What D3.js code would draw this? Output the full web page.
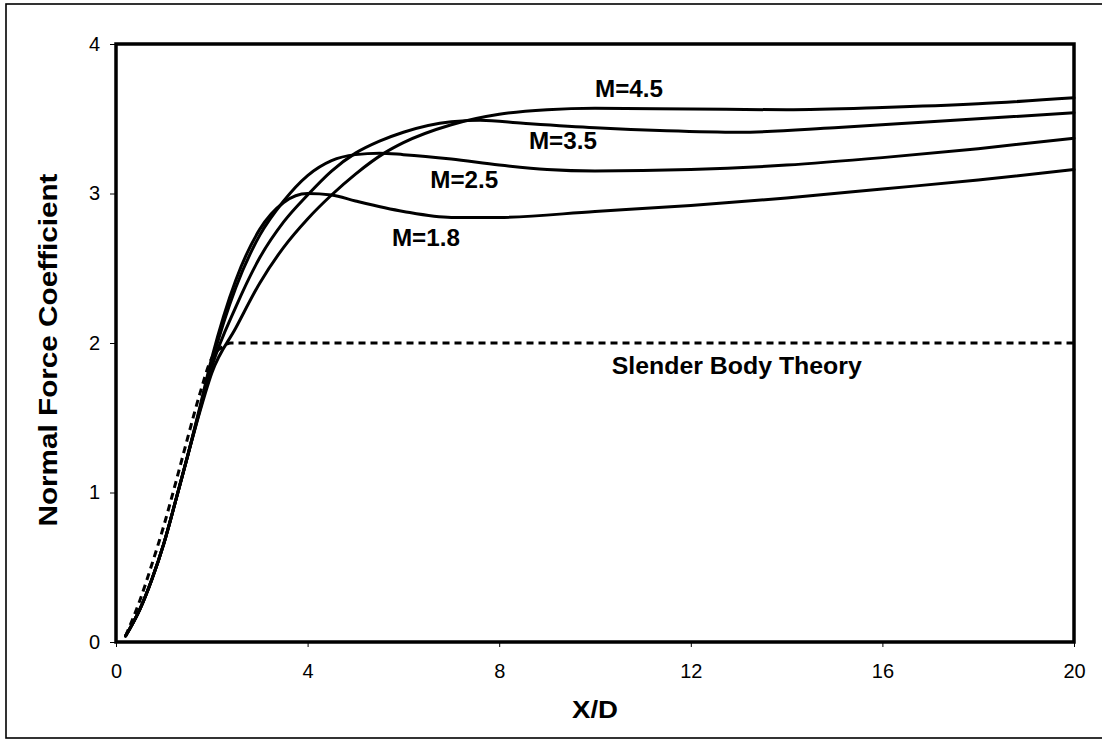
<!DOCTYPE html>
<html>
<head>
<meta charset="utf-8">
<script src="https://cdn.jsdelivr.net/npm/d3@7"></script>
<style>
  body { margin: 0; background: #fff; }
  svg { display: block; }
  text { font-family: "Liberation Sans", Arial, Helvetica, sans-serif; fill: #000; }
</style>
</head>
<body>
<svg id="chart" width="1102" height="740"></svg>
<script>
// ---- data ----
const xTicks = [0, 4, 8, 12, 16, 20];
const yTicks = [0, 1, 2, 3, 4];

const m18 = [[0.2,0.04],[0.5,0.22],[0.75,0.42],[1,0.66],[1.25,0.95],[1.5,1.25],[1.75,1.57],[2,1.9],[2.5,2.42],[3,2.76],[3.5,2.94],[4,3.0],[4.5,2.99],[5,2.95],[6,2.88],[7,2.84],[8,2.84],[10,2.88],[12,2.92],[14,2.97],[16,3.03],[18,3.09],[20,3.16]];
const m25 = [[0.2,0.04],[0.5,0.22],[0.75,0.42],[1,0.66],[1.25,0.95],[1.5,1.25],[1.75,1.56],[2,1.87],[2.5,2.37],[3,2.72],[3.5,2.95],[4,3.12],[4.5,3.22],[5,3.26],[5.5,3.27],[6,3.26],[7,3.23],[8,3.19],[9,3.16],[10,3.15],[12,3.16],[14,3.19],[16,3.24],[18,3.3],[20,3.37]];
const m35 = [[0.2,0.04],[0.5,0.22],[0.75,0.42],[1,0.66],[1.25,0.95],[1.5,1.25],[1.75,1.55],[2,1.84],[2.5,2.24],[3,2.57],[3.5,2.81],[4,2.99],[4.5,3.15],[5,3.27],[5.5,3.35],[6,3.41],[7,3.48],[7.6,3.49],[8.5,3.47],[10,3.44],[11.5,3.42],[13,3.41],[15,3.44],[17,3.48],[20,3.54]];
const m45 = [[0.2,0.04],[0.5,0.22],[0.75,0.42],[1,0.66],[1.25,0.95],[1.5,1.25],[1.75,1.54],[2,1.8],[2.5,2.1],[3,2.4],[3.5,2.64],[4,2.83],[4.5,2.99],[5,3.13],[5.6,3.27],[6,3.34],[7,3.46],[8,3.53],[9,3.56],[10,3.57],[12,3.565],[14,3.56],[16,3.575],[18,3.6],[20,3.64]];
const slender = [[0.2,0.04],[0.5,0.28],[0.75,0.52],[1,0.78],[1.25,1.07],[1.5,1.37],[1.75,1.66],[2,1.9],[2.2,1.97],[2.4,2.0],[20,2.0]];

const seriesLabels = ["M=1.8","M=2.5","M=3.5","M=4.5"];
const labelPos = [[6.47,2.65],[7.27,3.04],[9.33,3.30],[10.71,3.645]];
const slenderLabel = "Slender Body Theory";
const slenderLabelPos = [12.96,1.79];

// ---- drawing ----
const svg = d3.select("#chart");
const x = d3.scaleLinear().domain([0,20]).range([116,1074]);
const y = d3.scaleLinear().domain([0,4]).range([642,44]);

// outer frame
svg.append("rect").attr("x",6).attr("y",4).attr("width",1106).attr("height",734)
  .attr("fill","none").attr("stroke","#000").attr("stroke-width",1.6);

// axes
const xAxis = d3.axisBottom(x).tickValues(xTicks).tickSize(5).tickPadding(17).tickFormat(d3.format("d"));
const gx = svg.append("g").attr("transform",`translate(0,${y(0)})`).call(xAxis);
gx.select(".domain").remove();
gx.selectAll("line").attr("stroke","#000").attr("stroke-width",1);
gx.selectAll("text").style("font-size","20px").attr("fill","#000");

const yAxis = d3.axisLeft(y).tickValues(yTicks).tickSize(6).tickPadding(10).tickFormat(d3.format("d"));
const gy = svg.append("g").attr("transform",`translate(${x(0)},0)`).call(yAxis);
gy.select(".domain").remove();
gy.selectAll("line").attr("stroke","#000").attr("stroke-width",1);
gy.selectAll("text").style("font-size","20px").attr("fill","#000");

// plot box
svg.append("rect").attr("x",x(0)).attr("y",y(4)).attr("width",x(20)-x(0)).attr("height",y(0)-y(4))
  .attr("fill","none").attr("stroke","#000").attr("stroke-width",3.5);

const line = d3.line().x(d=>x(d[0])).y(d=>y(d[1])).curve(d3.curveMonotoneX);

svg.append("path").datum(slender).attr("d",line)
  .attr("fill","none").attr("stroke","#000").attr("stroke-width",3)
  .attr("stroke-dasharray","7,5");

[m18,m25,m35,m45].forEach(s=>{
  svg.append("path").datum(s).attr("d",line)
    .attr("fill","none").attr("stroke","#000").attr("stroke-width",3)
    .attr("stroke-linejoin","round").attr("stroke-linecap","round");
});

seriesLabels.forEach((t,i)=>{
  svg.append("text").attr("x",x(labelPos[i][0])).attr("y",y(labelPos[i][1]))
    .attr("text-anchor","middle").style("font-size","23px").style("font-weight","bold")
    .attr("textLength",68).attr("lengthAdjust","spacingAndGlyphs").text(t);
});

svg.append("text").attr("x",x(slenderLabelPos[0])).attr("y",y(slenderLabelPos[1]))
  .attr("text-anchor","middle").style("font-size","23px").style("font-weight","bold")
  .attr("textLength",250).attr("lengthAdjust","spacingAndGlyphs").text(slenderLabel);

// axis titles
svg.append("text").attr("x",595).attr("y",718).attr("text-anchor","middle")
  .style("font-size","24px").style("font-weight","bold")
  .attr("textLength",46).attr("lengthAdjust","spacingAndGlyphs").text("X/D");

svg.append("text").attr("transform","translate(57,350) rotate(-90)").attr("text-anchor","middle")
  .style("font-size","25px").style("font-weight","bold")
  .attr("textLength",353).attr("lengthAdjust","spacingAndGlyphs").text("Normal Force Coefficient");
</script>
</body>
</html>
